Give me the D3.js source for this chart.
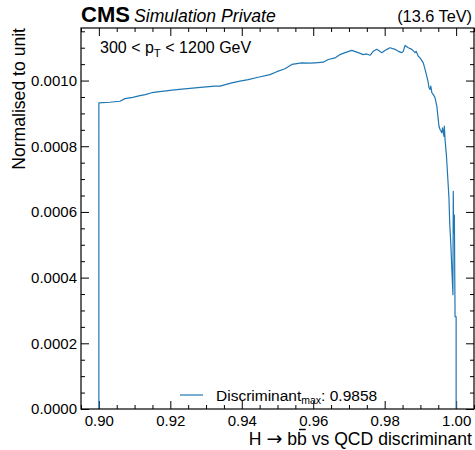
<!DOCTYPE html>
<html><head><meta charset="utf-8">
<script src="https://cdn.jsdelivr.net/npm/d3@7"></script>
<style>
body{margin:0;background:#fff}
svg{display:block}
text{font-family:"Liberation Sans",Arial,Helvetica,sans-serif;fill:#000}
</style>
</head><body>
<svg id="c" width="475" height="450"></svg>
<script>
// ---- data ----
const discriminant = [0.9000,0.9000,0.9030,0.9059,0.9073,0.9095,0.9115,0.9130,0.9148,0.9170,0.9199,0.9225,0.9255,0.9292,0.9325,0.9339,0.9372,0.9395,0.9418,0.9446,0.9479,0.9498,0.9521,0.9540,0.9568,0.9590,0.9605,0.9628,0.9642,0.9661,0.9675,0.9689,0.9708,0.9726,0.9740,0.9750,0.9759,0.9768,0.9778,0.9792,0.9806,0.9815,0.9829,0.9838,0.9848,0.9852,0.9857,0.9866,0.9876,0.9885,0.9888,0.9894,0.9899,0.9908,0.9913,0.9918,0.9922,0.9924,0.9927,0.9929,0.9932,0.9936,0.9939,0.9941,0.9946,0.9949,0.9952,0.9955,0.9960,0.9962,0.9966,0.9967,0.9969,0.9973,0.9978,0.9980,0.9982,0.9985,0.9991,0.9992,0.9993,0.9995,0.9997,1.0000,1.0000];
const normalised = [0,0.000932,0.000934,0.000937,0.000945,0.000949,0.000954,0.000957,0.000963,0.000966,0.000970,0.000973,0.000976,0.000980,0.000983,0.000983,0.000993,0.000998,0.001003,0.001010,0.001018,0.001027,0.001036,0.001049,0.001054,0.001053,0.001054,0.001056,0.001064,0.001069,0.001079,0.001085,0.001092,0.001085,0.001079,0.001081,0.001077,0.001089,0.001095,0.001085,0.001095,0.001100,0.001095,0.001089,0.001085,0.001089,0.001107,0.001100,0.001095,0.001085,0.001089,0.001074,0.001069,0.001054,0.001034,0.001013,0.000993,0.000978,0.000973,0.000983,0.000963,0.000957,0.000952,0.000947,0.000922,0.000891,0.000861,0.000851,0.000841,0.000856,0.000830,0.000861,0.000820,0.000769,0.000678,0.000640,0.000566,0.000505,0.000348,0.000663,0.000536,0.000590,0.000281,0.000281,0];
const xMajorTicks = [0.90,0.92,0.94,0.96,0.98,1.00];
const yMajorTicks = [0,0.0002,0.0004,0.0006,0.0008,0.0010];
const xDomain = [0.895,1.005];
const yDomain = [0,0.00116];
const legendLabel = {main:"Discriminant", sub:"max", value:": 0.9858"};

// ---- layout ----
const L=81, R=474, T=28, B=409;
const svg=d3.select("#c");
const x=d3.scaleLinear().domain(xDomain).range([L,R]);
const y=d3.scaleLinear().domain(yDomain).range([B,T]);
const blue="#1f77b4";

const xMinor=d3.range(0.895,1.0051,0.005).map(v=>+v.toFixed(3)).filter(v=>!xMajorTicks.some(t=>Math.abs(t-v)<1e-9));
const yMinor=d3.range(0,0.001161,0.00005).map(v=>+v.toFixed(5)).filter(v=>!yMajorTicks.some(t=>Math.abs(t-v)<1e-9));

function styleAxis(g){g.select(".domain").remove();g.selectAll("line").attr("stroke","#000").attr("stroke-width",1);g.selectAll("text").attr("font-size",15).attr("font-family","Liberation Sans, Arial, sans-serif").attr("fill","#000");}

// bottom
svg.append("g").attr("transform",`translate(0,${B})`)
  .call(d3.axisBottom(x).tickValues(xMajorTicks).tickSize(-8).tickPadding(6.5).tickFormat(d3.format(".2f"))).call(styleAxis);
svg.append("g").attr("transform",`translate(0,${B})`)
  .call(d3.axisBottom(x).tickValues(xMinor).tickSize(-4).tickFormat("")).call(styleAxis);
// top
svg.append("g").attr("transform",`translate(0,${T})`)
  .call(d3.axisTop(x).tickValues(xMajorTicks).tickSize(-8).tickFormat("")).call(styleAxis);
svg.append("g").attr("transform",`translate(0,${T})`)
  .call(d3.axisTop(x).tickValues(xMinor).tickSize(-4).tickFormat("")).call(styleAxis);
// left
svg.append("g").attr("transform",`translate(${L},0)`)
  .call(d3.axisLeft(y).tickValues(yMajorTicks).tickSize(-8).tickPadding(4).tickFormat(d3.format(".4f"))).call(styleAxis);
svg.append("g").attr("transform",`translate(${L},0)`)
  .call(d3.axisLeft(y).tickValues(yMinor).tickSize(-4).tickFormat("")).call(styleAxis);
// right
svg.append("g").attr("transform",`translate(${R},0)`)
  .call(d3.axisRight(y).tickValues(yMajorTicks).tickSize(-8).tickFormat("")).call(styleAxis);
svg.append("g").attr("transform",`translate(${R},0)`)
  .call(d3.axisRight(y).tickValues(yMinor).tickSize(-4).tickFormat("")).call(styleAxis);

// data line
const pts=discriminant.map((d,i)=>[d,normalised[i]]);
svg.append("path").datum(pts)
  .attr("d",d3.line().x(d=>x(d[0])).y(d=>y(d[1])))
  .attr("fill","none").attr("stroke",blue).attr("stroke-width",1.2).attr("stroke-linejoin","round");

// frame
svg.append("rect").attr("x",L).attr("y",T).attr("width",R-L).attr("height",B-T)
  .attr("fill","none").attr("stroke","#000").attr("stroke-width",1.2);

// header
svg.append("text").attr("x",L).attr("y",22).attr("font-size",22).attr("font-weight","bold").text("CMS");
svg.append("text").attr("x",134).attr("y",22).attr("font-size",17.6).attr("font-style","italic").text("Simulation Private");
svg.append("text").attr("x",472).attr("y",22).attr("font-size",16.3).attr("text-anchor","end").text("(13.6 TeV)");

// pT label
const pt=svg.append("text").attr("x",100).attr("y",53).attr("font-size",16);
pt.append("tspan").text("300 < p");
pt.append("tspan").attr("font-size",11.5).attr("dy",3.5).text("T");
pt.append("tspan").attr("dy",-3.5).text(" < 1200 GeV");

// axis titles
const xl=svg.append("text").attr("x",472).attr("y",445).attr("font-size",17.6).attr("text-anchor","end");
xl.append("tspan").text("H ");
xl.append("tspan").attr("font-family","DejaVu Sans").attr("font-size",19).text("\u2192");
const bbSpan=xl.append("tspan").text(" bb");
xl.append("tspan").text(" vs QCD discriminant");
// overline over the second b (char index 5 in full string: "H " + arrow + " b b")
{
  const node=xl.node();
  const ext=node.getExtentOfChar(5);
  svg.append("line").attr("x1",ext.x+2).attr("x2",ext.x+ext.width-1)
    .attr("y1",ext.y+0.5).attr("y2",ext.y+0.5).attr("stroke","#000").attr("stroke-width",1.4);
}
svg.append("text").attr("transform","translate(25,28) rotate(-90)").attr("font-size",17.6)
  .attr("text-anchor","end").text("Normalised to unit");

// legend
svg.append("line").attr("x1",180).attr("x2",203).attr("y1",395).attr("y2",395).attr("stroke",blue).attr("stroke-width",1.2);
const lg=svg.append("text").attr("x",216).attr("y",400.5).attr("font-size",15.5);
lg.append("tspan").text(legendLabel.main);
lg.append("tspan").attr("font-size",10.5).attr("dy",3).text(legendLabel.sub);
lg.append("tspan").attr("dy",-3).text(legendLabel.value);
</script>
</body></html>
